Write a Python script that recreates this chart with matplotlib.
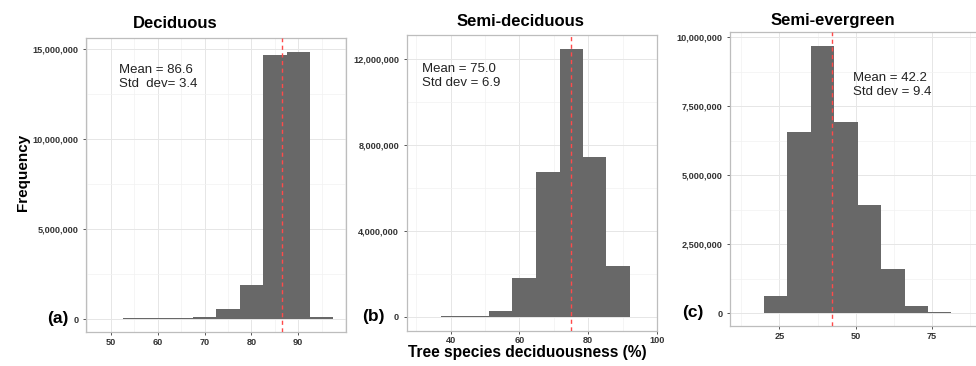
import numpy as np
from matplotlib import pyplot as plt
from matplotlib.ticker import FuncFormatter, MultipleLocator

plt.rcParams['font.family'] = ['Liberation Sans', 'DejaVu Sans']

# histogram bins (edges) and counts
dec_edges = [52.5, 57.5, 62.5, 67.5, 72.5, 77.5, 82.5, 87.5, 92.5, 97.5]
dec_counts = [30000, 35000, 50000, 110000, 540000, 1890000, 14630000, 14820000, 100000]

semi_dec_edges = [37.3, 44.2, 51.1, 57.9, 64.8, 71.7, 78.5, 85.3, 92.1]
semi_dec_counts = [30000, 60000, 270000, 1800000, 6760000, 12450000, 7440000, 2390000]

semi_ev_edges = [19.9, 27.6, 35.3, 43.0, 50.6, 58.3, 66.0, 73.7, 81.3]
semi_ev_counts = [620000, 6560000, 9700000, 6930000, 3930000, 1590000, 280000, 35000]

titles = ["Deciduous", "Semi-deciduous", "Semi-evergreen"]
tags = ["(a)", "(b)", "(c)"]
means = [86.6, 75.0, 42.2]
stat_text = ["Mean = 86.6\nStd  dev= 3.4", "Mean = 75.0\nStd dev = 6.9", "Mean = 42.2\nStd dev = 9.4"]
x_ticks = [[50, 60, 70, 80, 90], [40, 60, 80, 100], [25, 50, 75]]

W, H = 976, 366


def box(l, r, t, b):
    return [l / W, 1 - b / H, (r - l) / W, (b - t) / H]


fig = plt.figure(figsize=(W / 100, H / 100), dpi=100)

panels = [
    dict(edges=dec_edges, counts=dec_counts, pos=box(86, 346, 38, 332),
         xlim=(44.7, 100.2), ylim=(-0.72e6, 15.6e6), xmaj=10, ymaj=5e6,
         text=(119, 77), title=(175, 24), tag=(58, 318)),
    dict(edges=semi_dec_edges, counts=semi_dec_counts, pos=box(406.7, 657, 35, 330.7),
         xlim=(27.2, 100), ylim=(-0.64e6, 13.12e6), xmaj=20, ymaj=4e6,
         text=(422, 76), title=(520, 22), tag=(373, 316)),
    dict(edges=semi_ev_edges, counts=semi_ev_counts, pos=box(730, 990, 32, 326),
         xlim=(8.8, 94.0), ylim=(-0.46e6, 10.19e6), xmaj=25, ymaj=2.5e6,
         text=(853, 85), title=(833, 20), tag=(693, 312)),
]

for i, p in enumerate(panels):
    ax = fig.add_axes(p["pos"])
    edges = np.array(p["edges"])
    ax.bar(edges[:-1], p["counts"], width=np.diff(edges), align="edge",
           color="#686868", linewidth=0, zorder=2)
    ax.axvline(means[i], color="#ff4a4a", linestyle=(0, (3, 2.5)), linewidth=1.0, zorder=3)
    ax.set_xlim(p["xlim"])
    ax.set_ylim(p["ylim"])
    ax.set_xticks(x_ticks[i])
    ax.xaxis.set_minor_locator(MultipleLocator(p["xmaj"] / 2))
    ax.yaxis.set_major_locator(MultipleLocator(p["ymaj"]))
    ax.yaxis.set_minor_locator(MultipleLocator(p["ymaj"] / 2))
    ax.yaxis.set_major_formatter(FuncFormatter(lambda v, _: f"{int(round(v)):,}"))
    ax.grid(which="major", color="#e6e6e6", linewidth=0.7, zorder=0)
    ax.grid(which="minor", color="#f2f2f2", linewidth=0.5, zorder=0)
    ax.set_axisbelow(True)
    for s in ax.spines.values():
        s.set_color("#bdbdbd")
        s.set_linewidth(0.9)
    ax.tick_params(which="major", length=2.5, width=0.7, color="#555555",
                   labelsize=6.6, labelcolor="#333333", pad=3)
    ax.tick_params(axis="x", which="major", pad=1.5)
    ax.tick_params(which="minor", length=0)
    for lab in ax.get_xticklabels() + ax.get_yticklabels():
        lab.set_fontweight("bold")

    fig.text(p["text"][0] / W, 1 - p["text"][1] / H, stat_text[i], fontsize=9.5,
             color="#222222", ha="left", va="center", linespacing=1.15)
    fig.text(p["title"][0] / W, 1 - p["title"][1] / H, titles[i], fontsize=12,
             fontweight="bold", ha="center", va="center")
    fig.text(p["tag"][0] / W, 1 - p["tag"][1] / H, tags[i], fontsize=12.5,
             fontweight="bold", ha="center", va="center")

fig.text(23 / W, 1 - 172 / H, "Frequency", rotation=90, fontsize=11,
         fontweight="bold", ha="center", va="center")
fig.text(527 / W, 1 - 353 / H, "Tree species deciduousness (%)", fontsize=11.2,
         fontweight="bold", ha="center", va="center")

plt.savefig("out.png", dpi=100)
